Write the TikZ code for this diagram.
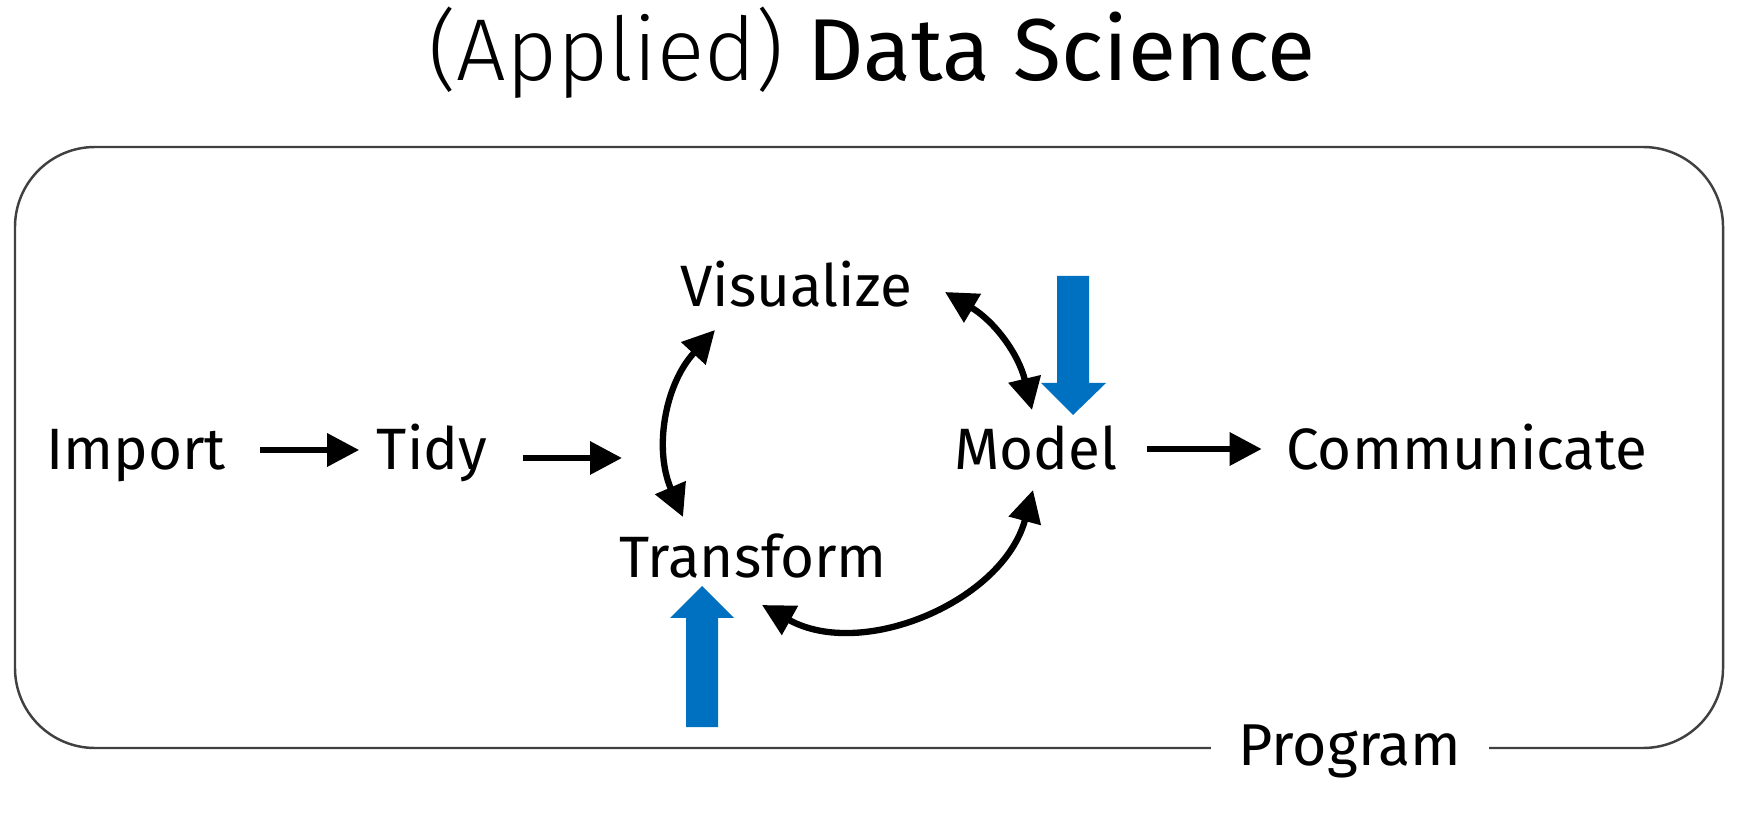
\documentclass[tikz,border=0pt]{standalone}
\usepackage{fontspec}
\setmainfont{Fira Sans}
\newfontfamily\lightfont{Fira Sans Light}
\usepackage{tikz}
\usetikzlibrary{arrows.meta}
\definecolor{stepblue}{HTML}{0070C0}
\definecolor{framegray}{HTML}{404040}

\begin{document}
\begin{tikzpicture}[
  stage/.style={inner sep=0pt, anchor=base, font=\fontsize{16.6}{20}\selectfont},
  flow/.style={-{Triangle[length=0.32cm,width=0.32cm]}, line width=1.8pt},
  cycle/.style={{Triangle[length=0.32cm,width=0.32cm]}-{Triangle[length=0.32cm,width=0.32cm]}, line width=1.8pt},
  focus/.style={fill=stepblue}
]
\useasboundingbox (0,0) rectangle (17.42,8.23);
% title
\node (title) [anchor=base, inner sep=0pt, font=\fontsize{25}{30}\selectfont] at (8.72,7.42) {{\lightfont (Applied)} Data Science};
% program frame
\draw[framegray, line width=0.7pt, rounded corners=0.8cm] (0.15,0.75) rectangle (17.23,6.76);
\node (program) [stage, fill=white, inner xsep=0.28cm, inner ysep=2pt, font=\fontsize{16.8}{20}\selectfont] at (13.50,0.58) {Program};
% stages
\node (import) [stage] at (1.36,3.53) {Import};
\node (tidy)   [stage] at (4.32,3.53) {Tidy};
\node (vis)    [stage] at (7.96,5.16) {Visualize};
\node (trans)  [stage] at (7.53,2.45) {Transform};
\node (model)  [stage] at (10.36,3.53) {Model};
\node (comm)   [stage] at (14.67,3.53) {Communicate};
\coordinate (merge) at (6.22,3.65);
% straight flow
\draw[flow] ([xshift=0.34cm,yshift=0.2cm]import.base east) -- ([xshift=-0.17cm,yshift=0.2cm]tidy.base west);
\draw[flow] ([xshift=0.35cm,yshift=0.12cm]tidy.base east) -- (merge);
\draw[flow] ([xshift=0.29cm,yshift=0.21cm]model.base east) -- ([xshift=-0.24cm,yshift=0.21cm]comm.base west);
% understand cycle
\draw[cycle] ([shift={(-0.81,-0.23)}]vis.base) to[bend right=33] ([shift={(-0.70,0.61)}]trans.base);
\draw[cycle] ([shift={(1.49,0.15)}]vis.base) to[bend left=23] ([shift={(-0.04,0.60)}]model.base);
\draw[cycle] ([shift={(0.09,-0.27)}]trans.base) to[bend right=52] ([shift={(-0.03,-0.20)}]model.base);
% focus arrows
\fill[focus] (10.57,5.47) -- (10.89,5.47) -- (10.89,4.40) -- (11.06,4.40) -- (10.73,4.08) -- (10.41,4.40) -- (10.57,4.40) -- cycle;
\fill[focus] (6.86,0.96) -- (7.18,0.96) -- (7.18,2.05) -- (7.34,2.05) -- (7.02,2.37) -- (6.70,2.05) -- (6.86,2.05) -- cycle;
\end{tikzpicture}
\end{document}
